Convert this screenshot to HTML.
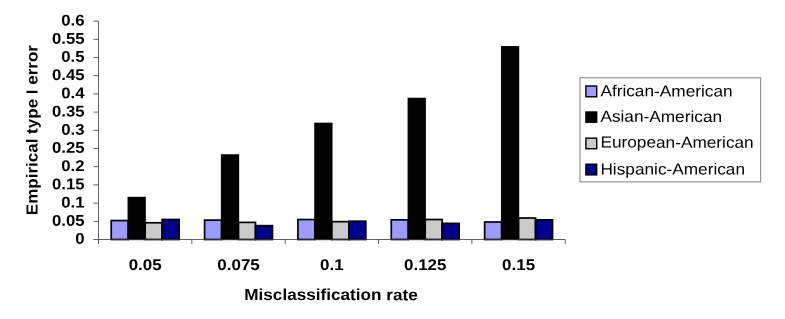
<!DOCTYPE html><html><head><meta charset="utf-8"><title>Chart</title><style>html,body{margin:0;padding:0;background:#fff}svg{display:block}text{font-family:"Liberation Sans",Arial,sans-serif;fill:#000}</style></head><body>
<svg width="785" height="319" viewBox="0 0 785 319">
<defs><filter id="soft" x="0" y="0" width="785" height="319" filterUnits="userSpaceOnUse"><feGaussianBlur stdDeviation="0.35"/></filter></defs>
<rect width="785" height="319" fill="#fff"/>
<g filter="url(#soft)">
<rect x="111.23" y="220.57" width="16.97" height="18.93" fill="#9c9cff" stroke="#000" stroke-width="1.7"/>
<rect x="128.20" y="197.46" width="16.97" height="42.04" fill="#000000" stroke="#000" stroke-width="1.3"/>
<rect x="145.18" y="222.76" width="16.97" height="16.74" fill="#cbcbcb" stroke="#000" stroke-width="1.7"/>
<rect x="162.15" y="219.48" width="16.97" height="20.02" fill="#00008e" stroke="#000" stroke-width="1.7"/>
<rect x="204.58" y="220.14" width="16.97" height="19.36" fill="#9c9cff" stroke="#000" stroke-width="1.7"/>
<rect x="221.55" y="154.91" width="16.97" height="84.59" fill="#000000" stroke="#000" stroke-width="1.3"/>
<rect x="238.52" y="222.39" width="16.97" height="17.11" fill="#cbcbcb" stroke="#000" stroke-width="1.7"/>
<rect x="255.50" y="225.67" width="16.97" height="13.83" fill="#00008e" stroke="#000" stroke-width="1.7"/>
<rect x="297.93" y="219.55" width="16.97" height="19.95" fill="#9c9cff" stroke="#000" stroke-width="1.7"/>
<rect x="314.90" y="123.31" width="16.97" height="116.19" fill="#000000" stroke="#000" stroke-width="1.3"/>
<rect x="331.88" y="221.66" width="16.97" height="17.84" fill="#cbcbcb" stroke="#000" stroke-width="1.7"/>
<rect x="348.85" y="221.23" width="16.97" height="18.27" fill="#00008e" stroke="#000" stroke-width="1.7"/>
<rect x="391.28" y="219.84" width="16.97" height="19.66" fill="#9c9cff" stroke="#000" stroke-width="1.7"/>
<rect x="408.25" y="98.41" width="16.97" height="141.09" fill="#000000" stroke="#000" stroke-width="1.3"/>
<rect x="425.22" y="219.52" width="16.97" height="19.98" fill="#cbcbcb" stroke="#000" stroke-width="1.7"/>
<rect x="442.20" y="223.41" width="16.97" height="16.09" fill="#00008e" stroke="#000" stroke-width="1.7"/>
<rect x="484.63" y="222.03" width="16.97" height="17.47" fill="#9c9cff" stroke="#000" stroke-width="1.7"/>
<rect x="501.60" y="46.73" width="16.97" height="192.77" fill="#000000" stroke="#000" stroke-width="1.3"/>
<rect x="518.58" y="218.02" width="16.97" height="21.48" fill="#cbcbcb" stroke="#000" stroke-width="1.7"/>
<rect x="535.55" y="219.84" width="16.97" height="19.66" fill="#00008e" stroke="#000" stroke-width="1.7"/>
<g stroke="#3a3a3a" stroke-width="0.8" fill="none">
<line x1="98.5" y1="21.10000000000005" x2="98.5" y2="244.0"/>
<line x1="93.5" y1="239.5" x2="565.25" y2="239.5"/>
<line x1="93.5" y1="221.30" x2="98.5" y2="221.30"/>
<line x1="93.5" y1="203.10" x2="98.5" y2="203.10"/>
<line x1="93.5" y1="184.90" x2="98.5" y2="184.90"/>
<line x1="93.5" y1="166.70" x2="98.5" y2="166.70"/>
<line x1="93.5" y1="148.50" x2="98.5" y2="148.50"/>
<line x1="93.5" y1="130.30" x2="98.5" y2="130.30"/>
<line x1="93.5" y1="112.10" x2="98.5" y2="112.10"/>
<line x1="93.5" y1="93.90" x2="98.5" y2="93.90"/>
<line x1="93.5" y1="75.70" x2="98.5" y2="75.70"/>
<line x1="93.5" y1="57.50" x2="98.5" y2="57.50"/>
<line x1="93.5" y1="39.30" x2="98.5" y2="39.30"/>
<line x1="93.5" y1="21.10" x2="98.5" y2="21.10"/>
<line x1="191.85" y1="239.5" x2="191.85" y2="244.0"/>
<line x1="285.20" y1="239.5" x2="285.20" y2="244.0"/>
<line x1="378.55" y1="239.5" x2="378.55" y2="244.0"/>
<line x1="471.90" y1="239.5" x2="471.90" y2="244.0"/>
<line x1="565.25" y1="239.5" x2="565.25" y2="244.0"/>
</g>
<text transform="translate(84.50,243.85) rotate(0.03) scale(1.08,1)" text-anchor="end" font-weight="bold" font-size="15.5">0</text>
<text transform="translate(84.50,225.65) rotate(0.03) scale(1.08,1)" text-anchor="end" font-weight="bold" font-size="15.5">0.05</text>
<text transform="translate(84.50,207.45) rotate(0.03) scale(1.08,1)" text-anchor="end" font-weight="bold" font-size="15.5">0.1</text>
<text transform="translate(84.50,189.25) rotate(0.03) scale(1.08,1)" text-anchor="end" font-weight="bold" font-size="15.5">0.15</text>
<text transform="translate(84.50,171.05) rotate(0.03) scale(1.08,1)" text-anchor="end" font-weight="bold" font-size="15.5">0.2</text>
<text transform="translate(84.50,152.85) rotate(0.03) scale(1.08,1)" text-anchor="end" font-weight="bold" font-size="15.5">0.25</text>
<text transform="translate(84.50,134.65) rotate(0.03) scale(1.08,1)" text-anchor="end" font-weight="bold" font-size="15.5">0.3</text>
<text transform="translate(84.50,116.45) rotate(0.03) scale(1.08,1)" text-anchor="end" font-weight="bold" font-size="15.5">0.35</text>
<text transform="translate(84.50,98.25) rotate(0.03) scale(1.08,1)" text-anchor="end" font-weight="bold" font-size="15.5">0.4</text>
<text transform="translate(84.50,80.05) rotate(0.03) scale(1.08,1)" text-anchor="end" font-weight="bold" font-size="15.5">0.45</text>
<text transform="translate(84.50,61.85) rotate(0.03) scale(1.08,1)" text-anchor="end" font-weight="bold" font-size="15.5">0.5</text>
<text transform="translate(84.50,43.65) rotate(0.03) scale(1.08,1)" text-anchor="end" font-weight="bold" font-size="15.5">0.55</text>
<text transform="translate(84.50,25.45) rotate(0.03) scale(1.08,1)" text-anchor="end" font-weight="bold" font-size="15.5">0.6</text>
<text transform="translate(145.18,270.00) rotate(0.03) scale(1.095,1)" text-anchor="middle" font-weight="bold" font-size="15.5">0.05</text>
<text transform="translate(238.52,270.00) rotate(0.03) scale(1.095,1)" text-anchor="middle" font-weight="bold" font-size="15.5">0.075</text>
<text transform="translate(331.88,270.00) rotate(0.03) scale(1.095,1)" text-anchor="middle" font-weight="bold" font-size="15.5">0.1</text>
<text transform="translate(425.22,270.00) rotate(0.03) scale(1.095,1)" text-anchor="middle" font-weight="bold" font-size="15.5">0.125</text>
<text transform="translate(518.57,270.00) rotate(0.03) scale(1.095,1)" text-anchor="middle" font-weight="bold" font-size="15.5">0.15</text>
<text transform="translate(331.00,300.10) rotate(0.03) scale(1.072,1)" text-anchor="middle" font-weight="bold" font-size="16.0">Misclassification rate</text>
<text transform="translate(37.50,130.10) rotate(-89.97) scale(1.064,1)" text-anchor="middle" font-weight="bold" font-size="16.0">Empirical type I error</text>
<rect x="580" y="77.8" width="180.7" height="104.1" fill="#fff" stroke="#808080" stroke-width="1"/>
<rect x="585.9" y="86.00" width="10.8" height="10.80" fill="#9c9cff" stroke="#000" stroke-width="1.4"/>
<text transform="translate(600.40,96.35) rotate(0.03) scale(1.078,1)" text-anchor="start" font-size="16">African-American</text>
<rect x="585.9" y="112.00" width="10.8" height="10.20" fill="#000000" stroke="#000" stroke-width="1.4"/>
<text transform="translate(600.40,121.85) rotate(0.03) scale(1.078,1)" text-anchor="start" font-size="16">Asian-American</text>
<rect x="585.9" y="138.15" width="10.8" height="10.60" fill="#cbcbcb" stroke="#000" stroke-width="1.4"/>
<text transform="translate(600.40,147.60) rotate(0.03) scale(1.078,1)" text-anchor="start" font-size="16">European-American</text>
<rect x="585.9" y="164.20" width="10.8" height="10.70" fill="#00008e" stroke="#000" stroke-width="1.4"/>
<text transform="translate(600.40,174.40) rotate(0.03) scale(1.078,1)" text-anchor="start" font-size="16">Hispanic-American</text>
</g></svg></body></html>
